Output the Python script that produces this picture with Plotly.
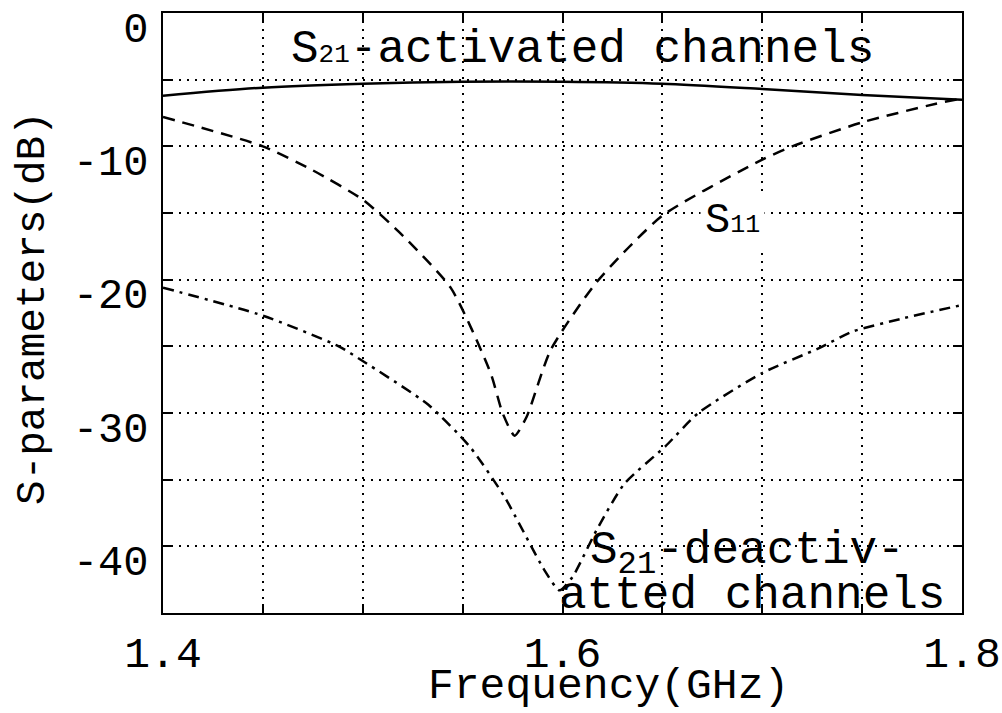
import plotly.graph_objects as go

# Frequency sweep (GHz) and measured S-parameters (dB)
freq_act = [1.40, 1.45, 1.50, 1.55, 1.60, 1.65, 1.70, 1.75, 1.80]
s21_activated = [-6.2, -5.6, -5.3, -5.15, -5.15, -5.3, -5.7, -6.15, -6.5]

freq_s11 = [1.40, 1.45, 1.475, 1.50, 1.518, 1.544, 1.564, 1.570, 1.576,
            1.582, 1.594, 1.617, 1.65, 1.70, 1.715, 1.75, 1.787, 1.80]
s11 = [-7.8, -10.0, -11.8, -14.0, -16.4, -20.6, -27.0, -30.0, -31.7,
       -30.3, -25.3, -20.2, -15.2, -11.0, -10.0, -8.2, -6.8, -6.4]

freq_deact = [1.40, 1.45, 1.488, 1.50, 1.533, 1.554, 1.571, 1.591, 1.5985,
              1.605, 1.617, 1.631, 1.6515, 1.668, 1.70, 1.729, 1.745, 1.7705, 1.80]
s21_deactivated = [-20.6, -22.7, -25.0, -26.1, -29.4, -32.6, -36.3, -41.8, -43.3,
                   -42.3, -38.8, -35.3, -32.5, -30.0, -27.0, -25.1, -23.9, -22.9, -21.9]

x_tickvals = [1.40, 1.45, 1.50, 1.55, 1.60, 1.65, 1.70, 1.75, 1.80]
x_ticktext = ["1.4", "", "", "", "1.6", "", "", "", "1.8"]
y_tickvals = [0, -5, -10, -15, -20, -25, -30, -35, -40, -45]
y_ticktext = ["0", "", "-10", "", "-20", "", "-30", "", "-40", ""]

FONT = "Courier New, Liberation Mono, monospace"

fig = go.Figure()
fig.add_trace(go.Scatter(x=freq_act, y=s21_activated, mode="lines",
                         line=dict(color="black", width=2.5, shape="spline", smoothing=0.8)))
fig.add_trace(go.Scatter(x=freq_s11, y=s11, mode="lines",
                         line=dict(color="black", width=2.5, dash="12px,8px",
                                   shape="spline", smoothing=0.6)))
fig.add_trace(go.Scatter(x=freq_deact, y=s21_deactivated, mode="lines",
                         line=dict(color="black", width=2.5, dash="11px,6px,3px,6px",
                                   shape="spline", smoothing=0.6)))

axis_common = dict(
    showline=True, linecolor="black", linewidth=2.2, mirror="allticks",
    ticks="inside", ticklen=9, tickwidth=2, tickcolor="black",
    showgrid=True, gridcolor="black", gridwidth=1.5, griddash="2px,6px",
    zeroline=False, automargin=False,
)

fig.update_xaxes(range=[1.4, 1.8], tickmode="array", tickvals=x_tickvals,
                 ticktext=x_ticktext, ticklabelstandoff=0,
                 tickfont=dict(family=FONT, size=43, color="black"), **axis_common)
fig.update_yaxes(range=[-45, 0], tickmode="array", tickvals=y_tickvals,
                 ticktext=y_ticktext, ticklabelstandoff=4, ticklabelshift=14,
                 tickfont=dict(family=FONT, size=42, color="black"), **axis_common)

annotations = [
    dict(x=1.463, y=-2.8, xref="x", yref="y", xanchor="left", yanchor="middle",
         text="S<span style='font-size:26px'>21</span>-activated channels",
         font=dict(family=FONT, size=46, color="black"), showarrow=False),
    dict(x=1.685, y=-15.6, xref="x", yref="y", xanchor="center", yanchor="middle",
         text="S<span style='font-size:25px'>11</span>",
         font=dict(family=FONT, size=42, color="black"), showarrow=False,
         bgcolor="white", borderpad=4),
    dict(x=1.613, y=-40.6, xref="x", yref="y", xanchor="left", yanchor="middle",
         text="S<sub>21</sub>-deactiv-",
         font=dict(family=FONT, size=46, color="black"), showarrow=False),
    dict(x=1.597, y=-43.7, xref="x", yref="y", xanchor="left", yanchor="middle",
         text="atted channels",
         font=dict(family=FONT, size=46, color="black"), showarrow=False),
    dict(x=0.557, y=-0.122, xref="paper", yref="paper", xanchor="center", yanchor="middle",
         text="Frequency(GHz)", font=dict(family=FONT, size=43, color="black"),
         showarrow=False),
    dict(x=-0.163, y=0.508, xref="paper", yref="paper", xanchor="center", yanchor="middle",
         text="S-parameters(dB)", textangle=-90,
         font=dict(family=FONT, size=41, color="black"), showarrow=False),
]

fig.update_layout(
    width=1002, height=713,
    margin=dict(l=163, r=40, t=13, b=100),
    paper_bgcolor="white", plot_bgcolor="white",
    showlegend=False, annotations=annotations,
)

fig.write_html("out.html")
